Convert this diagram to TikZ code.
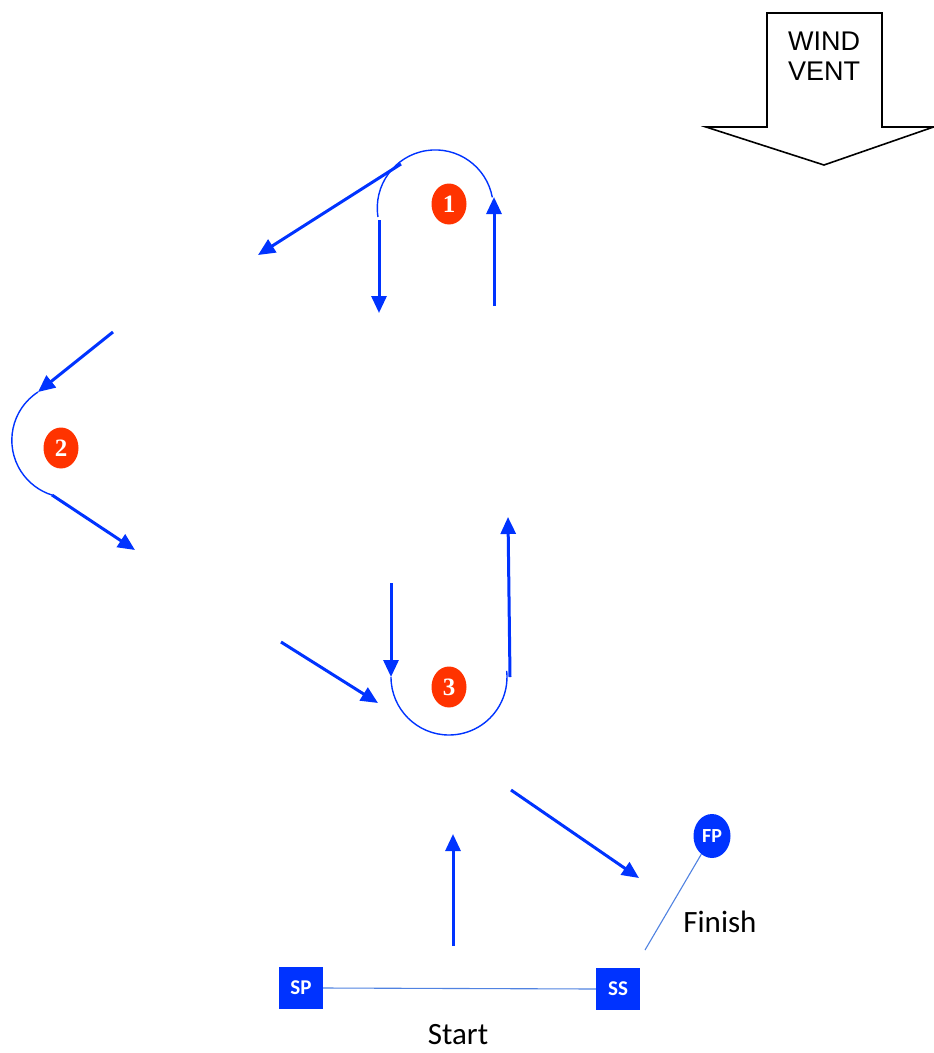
\documentclass[tikz,border=0pt]{standalone}
\usepackage{fontspec}
\setmainfont{Liberation Sans}
\newfontfamily\calfont{Carlito}
\newfontfamily\markfont{Liberation Serif}
\usetikzlibrary{arrows.meta,shapes.geometric}
\definecolor{cblue}{RGB}{0,51,255}
\definecolor{cred}{RGB}{255,51,0}
\definecolor{lblue}{RGB}{80,130,225}
\begin{document}
\begin{tikzpicture}[x=1pt,y=-1pt,
  leg/.style={draw=cblue, line width=3pt, -{Triangle[length=17pt,width=15pt]}},
  rnd/.style={draw=cblue, line width=1.4pt},
  markbuoy/.style={ellipse, fill=cred, minimum width=35pt, minimum height=41pt, inner sep=0pt, text=white, font=\markfont\bfseries\fontsize{25}{25}\selectfont},
  sqbuoy/.style={rectangle, fill=cblue, minimum width=44pt, minimum height=42pt, inner sep=0pt, text=white, font=\calfont\bfseries\fontsize{21}{21}\selectfont},
  rndbuoy/.style={ellipse, fill=cblue, minimum width=37pt, minimum height=44pt, inner sep=0pt, text=white, font=\calfont\bfseries\fontsize{20}{20}\selectfont},
  txt/.style={font=\calfont\fontsize{31}{34}\selectfont, inner sep=0pt},
  thinline/.style={draw=lblue, line width=1.1pt},
  windshape/.style={draw=black, line width=1.6pt, fill=white}
]
\useasboundingbox (0,0) rectangle (934,1053);

% wind arrow
\draw[windshape] (767,13) -- (882,13) -- (882,127) -- (933.5,127) -- (824,165) -- (706,127) -- (767,127) -- cycle;
\node[align=center, font=\fontsize{27}{30}\selectfont] (wind) at (824,56) {WIND\\VENT};

% marks
\node[markbuoy] (m1) at (449,204) {1};
\node[markbuoy] (m2) at (61,448) {2};
\node[markbuoy] (m3) at (449,687) {3};

% start / finish buoys
\node[sqbuoy] (sp) at (301,988) {SP};
\node[sqbuoy] (ss) at (618,989) {SS};
\node[rndbuoy] (fp) at (712,836) {FP};
\node[txt] (start) at (458,1035) {Start};
\node[txt] (finish) at (720,922) {Finish};

% start and finish lines
\draw[thinline] (sp.east) -- (ss.west);
\coordinate (finlow) at (645,950);
\draw[thinline] (fp) -- (finlow);

% coordinates for legs
\coordinate (s0) at (453,946);
\coordinate (s1) at (453,834);
\coordinate (a1in) at (494,306);
\coordinate (a1top) at (494,197);
\coordinate (d1a) at (379,220);
\coordinate (d1b) at (379,313);
\coordinate (o1a) at (401,164);
\coordinate (o1b) at (258,255);
\coordinate (i2a) at (113,332);
\coordinate (i2b) at (38,392);
\coordinate (o2a) at (52,495);
\coordinate (o2b) at (135,550);
\coordinate (i3a) at (281,642);
\coordinate (i3b) at (378,703);
\coordinate (d3a) at (391,583);
\coordinate (d3b) at (391,677);
\coordinate (u3a) at (510,677);
\coordinate (u3b) at (508,517);
\coordinate (fa) at (511,790);
\coordinate (fb) at (639,878);

% legs
\draw[leg] (s0) -- (s1);
\draw[leg] (a1in) -- (a1top);
\draw[leg] (d1a) -- (d1b);
\draw[leg] (o1a) -- (o1b);
\draw[leg] (i2a) -- (i2b);
\draw[leg] (o2a) -- (o2b);
\draw[leg] (i3a) -- (i3b);
\draw[leg] (d3a) -- (d3b);
\draw[leg] (u3a) -- (u3b);
\draw[leg] (fa) -- (fb);

% roundings
\draw[rnd] (378,217) arc[start angle=171, end angle=349.5, radius=58];
\draw[rnd] (i2b) arc[start angle=237, end angle=107.6, radius=57.5];
\draw[rnd] (d3b) arc[start angle=180, end angle=-6, radius=58];
\end{tikzpicture}
\end{document}
